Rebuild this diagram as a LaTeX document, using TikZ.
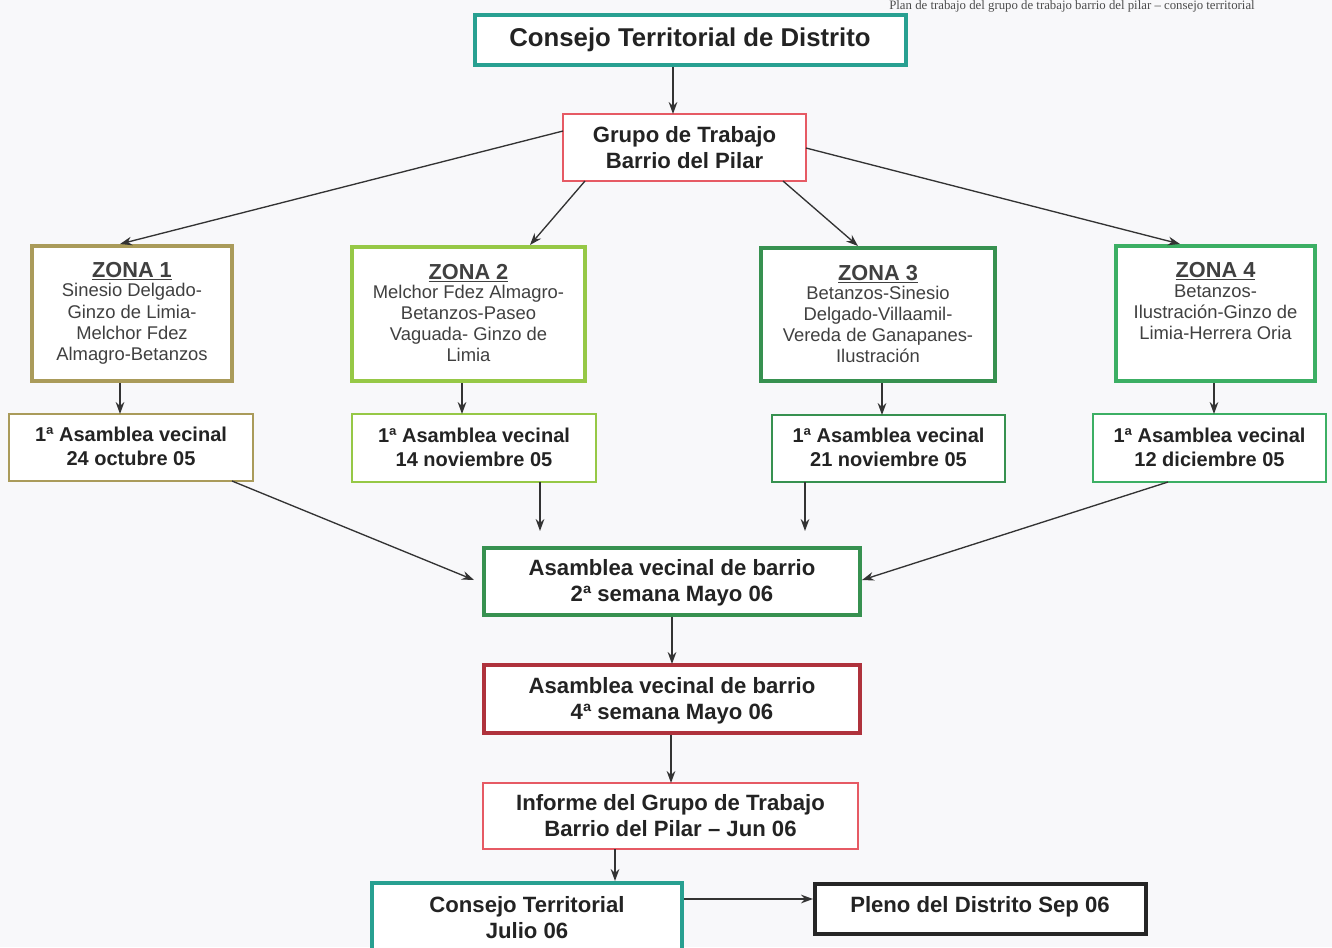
\documentclass[tikz,border=0pt]{standalone}
\usepackage{fontspec}
\setmainfont{Liberation Sans}
\newfontfamily\hdrfont{Liberation Serif}
\usetikzlibrary{arrows.meta}
\definecolor{teal1}{RGB}{40,160,145}
\definecolor{olive1}{RGB}{170,155,90}
\definecolor{lgreen}{RGB}{150,200,70}
\definecolor{mgreen}{RGB}{55,145,80}
\definecolor{bgreen}{RGB}{60,175,100}
\definecolor{red1}{RGB}{230,90,100}
\definecolor{dred}{RGB}{175,50,60}
\definecolor{bg}{RGB}{248,248,250}
\definecolor{txt}{RGB}{35,35,35}
\newcommand\zfnt{\fontsize{13.8}{15.8}\selectfont}
\newcommand\zhead[1]{{\fontsize{16.3}{17}\selectfont\bfseries\underline{#1}}}
\begin{document}
\begin{tikzpicture}[x=0.75pt,y=-0.75pt,
  arr/.style={-{Stealth[length=9pt,width=6.5pt]}, draw=black!80, line width=1pt},
  bigt/.style={font=\fontsize{19.3}{21}\selectfont\bfseries, text=txt, align=center},
  midt/.style={font=\fontsize{16.6}{19.5}\selectfont\bfseries, text=txt, align=center},
  asmt/.style={font=\fontsize{15}{18}\selectfont\bfseries, text=txt, align=center},
  zont/.style={font=\zfnt, text=black!75, align=center}
]
\useasboundingbox (0,0) rectangle (1332,947);
\fill[bg] (0,0) rectangle (1332,947);
\node[anchor=center, font=\hdrfont\fontsize{9.6}{10}\selectfont, text=black!70, inner sep=0pt] (hdr) at (1072,6) {Plan de trabajo del grupo de trabajo barrio del pilar – consejo territorial};

% top
\path[draw=teal1, line width=3pt, fill=white] (475,15) rectangle (906,65);
\node[bigt] (ctdt) at (690,40) {Consejo Territorial de Distrito};

% grupo
\draw[red1, line width=1.2pt, fill=white] (563,114) rectangle (806,181);
\node[midt] (gt) at (684.5,147.5) {Grupo de Trabajo\\Barrio del Pilar};
\coordinate (gtop) at (673,114);
\coordinate (gl) at (563,131);
\coordinate (gbl) at (585,181);
\coordinate (gbr) at (783,181);
\coordinate (gr) at (806,148);

% zones
\draw[olive1, line width=3.5pt, fill=white] (32,246) rectangle (232,381);
\draw[lgreen, line width=3.5pt, fill=white] (352,247) rectangle (585,381);
\draw[mgreen, line width=3.5pt, fill=white] (761,248) rectangle (995,381);
\draw[bgreen, line width=3.5pt, fill=white] (1116,246) rectangle (1315,381);
\node[zont] (z1) at (132,313) {\zhead{ZONA 1}\\[-1pt]Sinesio Delgado-\\Ginzo de Limia-\\Melchor Fdez\\Almagro-Betanzos};
\node[zont] (z2) at (468.5,313) {\zhead{ZONA 2}\\[-1pt]Melchor Fdez Almagro-\\Betanzos-Paseo\\Vaguada- Ginzo de\\Limia};
\node[zont] (z3) at (878,314) {\zhead{ZONA 3}\\[-1pt]Betanzos-Sinesio\\Delgado-Villaamil-\\Vereda de Ganapanes-\\Ilustración};
\node[zont] (z4) at (1215.5,301) {\zhead{ZONA 4}\\[-1pt]Betanzos-\\Ilustración-Ginzo de\\Limia-Herrera Oria};

% asambleas
\draw[olive1, line width=1pt, fill=white] (9,414) rectangle (253,481);
\draw[lgreen, line width=1pt, fill=white] (352,414) rectangle (596,482);
\draw[mgreen, line width=1pt, fill=white] (772,415) rectangle (1005,482);
\draw[bgreen, line width=1pt, fill=white] (1093,414) rectangle (1326,482);
\node[asmt] (a1) at (131,446) {1ª Asamblea vecinal\\24 octubre 05};
\node[asmt] (a2) at (474,447) {1ª Asamblea vecinal\\14 noviembre 05};
\node[asmt] (a3) at (888.5,447) {1ª Asamblea vecinal\\21 noviembre 05};
\node[asmt] (a4) at (1209.5,447) {1ª Asamblea vecinal\\12 diciembre 05};

% barrio
\draw[mgreen, line width=3pt, fill=white] (484,548) rectangle (860,615);
\node[midt] (b1) at (672,583) {Asamblea vecinal de barrio\\2ª semana Mayo 06};
\draw[dred, line width=3pt, fill=white] (484,665) rectangle (860,733);
\node[midt] (b2) at (672,701) {Asamblea vecinal de barrio\\4ª semana Mayo 06};
\draw[red1, line width=1.2pt, fill=white] (483,783) rectangle (858,849);
\node[midt] (inf) at (670.5,816) {Informe del Grupo de Trabajo\\Barrio del Pilar – Jun 06};
\draw[teal1, line width=3.5pt, fill=white] (372,883) rectangle (682,960);
\node[midt] (ctj) at (527,918) {Consejo Territorial\\Julio 06};
\draw[black!85, line width=3.5pt, fill=white] (815,884) rectangle (1146,934);
\node[midt] (pl) at (980,907) {Pleno del Distrito Sep 06};

% coordinates for arrows
\coordinate (ctdb) at (673,67);
\coordinate (z1t) at (120,244);
\coordinate (z2t) at (530,245);
\coordinate (z3t) at (858,246);
\coordinate (z4t) at (1180,244);
\coordinate (z1b) at (120,383);
\coordinate (z2b) at (462,383);
\coordinate (z3b) at (882,383);
\coordinate (z4b) at (1214,383);
\coordinate (a1t) at (120,414);
\coordinate (a2t) at (462,414);
\coordinate (a3t) at (882,415);
\coordinate (a4t) at (1214,414);
\coordinate (a1b) at (232,481);
\coordinate (a2b) at (540,482);
\coordinate (a3b) at (805,482);
\coordinate (a4b) at (1168,482);
\coordinate (a2e) at (540,531);
\coordinate (a3e) at (805,531);
\coordinate (b1l) at (474,580);
\coordinate (b1r) at (862,580);
\coordinate (b1b) at (672,617);
\coordinate (b2t) at (672,664);
\coordinate (b2b) at (671,735);
\coordinate (inft) at (671,783);
\coordinate (infb) at (615,849);
\coordinate (ctjt) at (615,881);
\coordinate (ctjr) at (684,899);
\coordinate (pll) at (813,899);

\draw[arr] (ctdb) -- (gtop);
\draw[arr] (gl) -- (z1t);
\draw[arr] (gbl) -- (z2t);
\draw[arr] (gbr) -- (z3t);
\draw[arr] (gr) -- (z4t);
\draw[arr] (z1b) -- (a1t);
\draw[arr] (z2b) -- (a2t);
\draw[arr] (z3b) -- (a3t);
\draw[arr] (z4b) -- (a4t);
\draw[arr] (a1b) -- (b1l);
\draw[arr] (a2b) -- (a2e);
\draw[arr] (a3b) -- (a3e);
\draw[arr] (a4b) -- (b1r);
\draw[arr] (b1b) -- (b2t);
\draw[arr] (b2b) -- (inft);
\draw[arr] (infb) -- (ctjt);
\draw[arr] (ctjr) -- (pll);
\end{tikzpicture}
\end{document}
